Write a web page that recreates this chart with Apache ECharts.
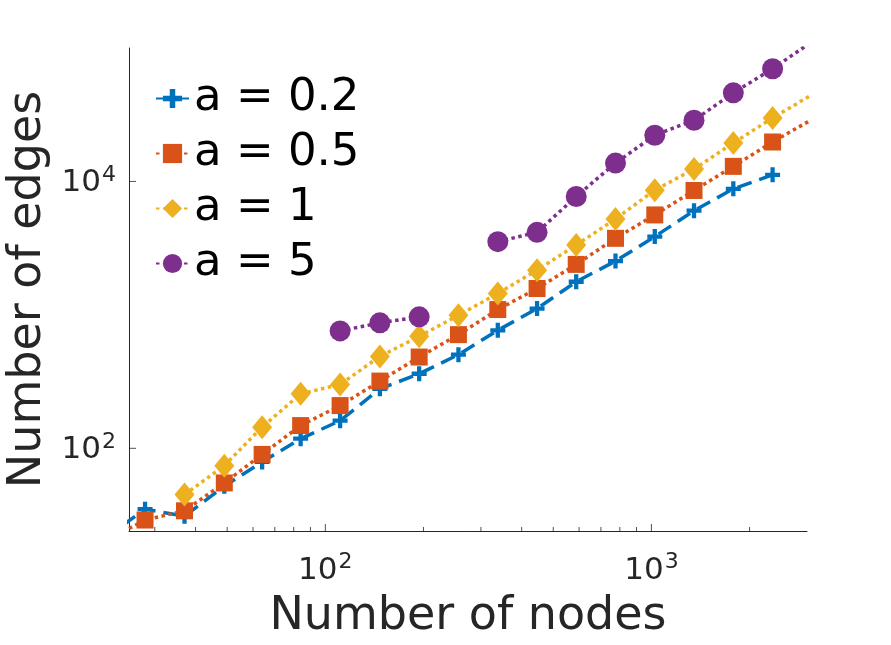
<!DOCTYPE html>
<html>
<head>
<meta charset="utf-8">
<script src="https://cdn.jsdelivr.net/npm/echarts@6/dist/echarts.min.js"></script>
<style>
html, body { margin: 0; padding: 0; background: #fff; }
#main { width: 891px; height: 645px; }
</style>
</head>
<body>
<div id="main"></div>
<script>
// 节点数 (x)
var nodes = [21, 28, 37, 49, 64, 84, 111, 147, 194, 256, 338, 446, 588, 776, 1024, 1351, 1783, 2353, 3104];
// 边数, 每个 a 一条线 (null = 没有点)
var edgesA02 = [21, 35, 31, 52, 79, 118, 161, 279, 362, 503, 766, 1115, 1771, 2529, 3859, 6032, 8798, 11210, null];
var edgesA05 = [20, 29, 34, 55, 90, 148, 209, 319, 483, 711, 1096, 1576, 2389, 3747, 5609, 8556, 12970, 19750, 29100];
var edgesA1 = [null, null, 45, 74, 144, 256, 301, 488, 690, 993, 1446, 2164, 3337, 5233, 8601, 12380, 19410, 29920, 44570];
var edgesA5 = [null, null, null, null, null, null, 758, 871, 966, null, 3539, 4157, 7713, 13730, 22180, 28740, 46110, 69900, 111400];
var seriesNames = ['a = 0.2', 'a = 0.5', 'a = 1', 'a = 5'];

// 坐标轴
var xMin = 25, xMax = 3000;
var yMin = 24, yMax = 100000;
var xMajorTicks = [100, 1000];
var xMinorTicks = [30, 40, 50, 60, 70, 80, 90, 200, 300, 400, 500, 600, 700, 800, 900, 2000];
var yMajorTicks = [100, 10000];

var axisColor = '#262626';
var font = 'DejaVu Sans';

function pairs(vals) {
    return nodes.map(function (n, i) {
        return [n, vals[i] == null ? '-' : vals[i]];
    });
}
function powLabel(list) {
    return function (v) {
        var e = Math.round(Math.log10(v));
        for (var i = 0; i < list.length; i++) {
            if (Math.abs(v / list[i] - 1) < 1e-6) {
                return '{b|10}{s|' + e + '}';
            }
        }
        return '';
    };
}
var labelRich = {
    b: { fontSize: 31, fontFamily: font, color: axisColor, verticalAlign: 'bottom' },
    s: { fontSize: 22, fontFamily: font, color: axisColor, verticalAlign: 'bottom', padding: [0, 0, 13, 1] }
};

function tickSeries(xs, ys, size, offset) {
    return {
        type: 'scatter',
        silent: true,
        clip: false,
        z: 5,
        symbol: 'rect',
        symbolSize: size,
        symbolOffset: offset,
        itemStyle: { color: axisColor },
        data: xs.map(function (x, i) { return [x, ys[i]]; })
    };
}

var plus = 'path://M5,0H9V5H14V9H9V14H5V9H0V5H5Z';

var myChart = echarts.init(document.getElementById('main'));
myChart.setOption({
    animation: false,
    backgroundColor: '#fff',
    grid: { left: 129, right: 84, top: 48, bottom: 114, containLabel: false, outerBoundsMode: 'none' },
    legend: {
        data: seriesNames,
        orient: 'vertical',
        left: 155,
        top: 76,
        padding: 0,
        itemGap: 10,
        itemWidth: 33,
        itemHeight: 24,
        textStyle: { fontSize: 45, fontFamily: font, color: '#000', lineHeight: 44 }
    },
    xAxis: {
        type: 'log',
        logBase: 10,
        min: xMin,
        max: xMax,
        name: 'Number of nodes',
        nameLocation: 'middle',
        nameGap: 63,
        nameTextStyle: { fontSize: 46, fontFamily: font, color: axisColor },
        axisLine: { lineStyle: { color: axisColor, width: 1 } },
        axisTick: { show: false },
        splitLine: { show: false },
        axisLabel: {
            margin: 20,
            showMinLabel: false,
            showMaxLabel: false,
            formatter: powLabel(xMajorTicks),
            rich: labelRich
        }
    },
    yAxis: {
        type: 'log',
        logBase: 10,
        min: yMin,
        max: yMax,
        name: 'Number of edges',
        nameLocation: 'middle',
        nameGap: 78,
        nameTextStyle: { fontSize: 46, fontFamily: font, color: axisColor },
        axisLine: { lineStyle: { color: axisColor, width: 1 } },
        axisTick: { show: false },
        splitLine: { show: false },
        axisLabel: {
            margin: 13,
            showMinLabel: false,
            showMaxLabel: false,
            formatter: powLabel(yMajorTicks),
            rich: labelRich
        }
    },
    series: [
        {
            name: seriesNames[0],
            type: 'line',
            data: pairs(edgesA02),
            symbol: plus,
            symbolSize: 15,
            itemStyle: { color: '#0072BD' },
            lineStyle: { color: '#0072BD', width: 3.5, type: [15, 8] }
        },
        {
            name: seriesNames[1],
            type: 'line',
            data: pairs(edgesA05),
            symbol: 'rect',
            symbolSize: 17,
            itemStyle: { color: '#D95319' },
            lineStyle: { color: '#D95319', width: 3.5, type: [3.5, 3.5] }
        },
        {
            name: seriesNames[2],
            type: 'line',
            data: pairs(edgesA1),
            symbol: 'diamond',
            symbolSize: [20, 24],
            itemStyle: { color: '#EDB120' },
            lineStyle: { color: '#EDB120', width: 3.5, type: [3.5, 3.5] }
        },
        {
            name: seriesNames[3],
            type: 'line',
            data: pairs(edgesA5),
            symbol: 'circle',
            symbolSize: 21,
            itemStyle: { color: '#7E2F8E' },
            lineStyle: { color: '#7E2F8E', width: 3.5, type: [3.5, 3.5] }
        },
        // 刻度线 (向内)
        tickSeries(xMajorTicks, xMajorTicks.map(function () { return yMin; }), [1, 7], [0, -3.5]),
        tickSeries(xMinorTicks, xMinorTicks.map(function () { return yMin; }), [1, 4], [0, -2]),
        tickSeries(yMajorTicks.map(function () { return xMin; }), yMajorTicks, [7, 1], [3.5, 0])
    ]
});
</script>
</body>
</html>
